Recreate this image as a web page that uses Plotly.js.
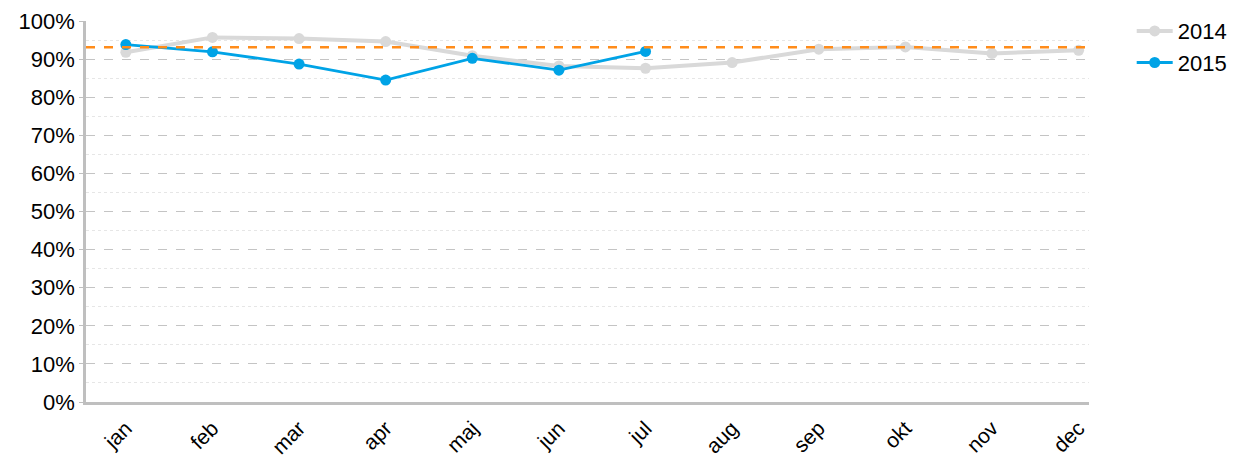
<!DOCTYPE html>
<html><head><meta charset="utf-8">
<script src="https://cdn.plot.ly/plotly-3.0.1.min.js"></script>
<style>html,body{margin:0;padding:0;background:#fff}#c{width:1245px;height:459px}</style>
</head><body><div id="c"></div>
<script>
const months = ['jan','feb','mar','apr','maj','jun','jul','aug','sep','okt','nov','dec'];
const values2014 = [0.918,0.957,0.954,0.946,0.909,0.882,0.876,0.891,0.926,0.932,0.915,0.923];
const months2015 = ['jan','feb','mar','apr','maj','jun','jul'];
const values2015 = [0.938,0.919,0.887,0.845,0.902,0.871,0.920];
const target = 0.931;

const traces = [
  {x: months, y: values2014, name: '2014', type: 'scatter', mode: 'lines+markers',
   line: {color: '#d9d9d9', width: 4}, marker: {color: '#d9d9d9', size: 11}},
  {x: months2015, y: values2015, name: '2015', type: 'scatter', mode: 'lines+markers',
   line: {color: '#00a3e6', width: 2.8}, marker: {color: '#00a3e6', size: 11}}
];
const layout = {
  width: 1245, height: 459,
  margin: {l: 86, r: 156, t: 21, b: 57},
  paper_bgcolor: '#fff', plot_bgcolor: '#fff',
  font: {family: 'Liberation Sans, Arial, sans-serif', color: '#000'},
  xaxis: {type: 'category', categoryorder: 'array', categoryarray: months,
    range: [-0.46, 11.12], showgrid: false, zeroline: false,
    showline: true, linecolor: '#bfbfbf', linewidth: 2.5, automargin: false,
    tickangle: -45, tickfont: {size: 21}, ticks: '', ticklabelstandoff: 3},
  yaxis: {range: [0, 1], dtick: 0.1, tickformat: '.0%', tickfont: {size: 22},
    showline: true, linecolor: '#bfbfbf', linewidth: 2.5, zeroline: false, automargin: false,
    ticks: 'outside', ticklen: 4, tickcolor: '#bfbfbf',
    gridcolor: '#c4c4c4', griddash: 'dash', gridwidth: 1,
    minor: {dtick: 0.05, showgrid: true, gridcolor: '#e6e6e6', griddash: 'dot', gridwidth: 1}},
  shapes: [{type: 'line', xref: 'paper', x0: 0, x1: 1, yref: 'y', y0: target, y1: target,
    line: {color: '#ff8c1a', width: 2.4, dash: 'dash'}}],
  legend: {xref: 'container', yref: 'container', x: 0.909, y: 0.978, xanchor: 'left', yanchor: 'top',
    font: {size: 22}, tracegroupgap: 0, itemwidth: 36, bgcolor: 'rgba(0,0,0,0)'},
  showlegend: true
};
Plotly.newPlot('c', traces, layout, {displayModeBar: false});
</script></body></html>
